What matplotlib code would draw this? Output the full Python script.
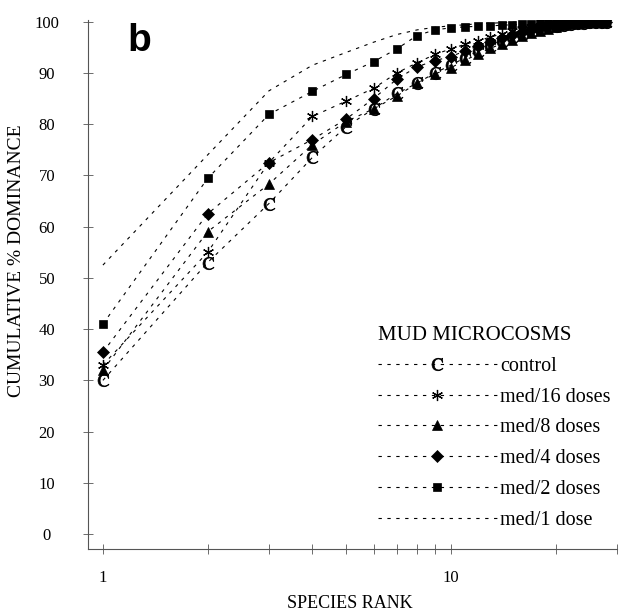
import matplotlib
matplotlib.use("Agg")
import matplotlib.pyplot as plt
from matplotlib.ticker import FixedLocator, NullFormatter, FixedFormatter

plt.rcParams["font.family"] = ["Liberation Serif", "DejaVu Serif"]
plt.rcParams["mathtext.fontset"] = "stix"

# species rank and cumulative % dominance for each treatment
ranks = list(range(1, 29))
control = [30.0, 53.0, 64.5, 73.5, 79.5, 83.0, 86.0, 88.0, 90.0, 91.5, 93.0, 94.3,
           95.3, 96.2, 97.0, 97.6, 98.1, 98.5, 98.9, 99.2, 99.4, 99.6, 99.7, 99.8,
           99.9, 100.0, 100.0, 100.0]
med16 = [33.0, 55.0, 72.5, 81.5, 84.5, 87.0, 90.0, 92.0, 93.6, 94.7, 95.6, 96.3,
         97.0, 97.6, 98.1, 98.5, 98.9, 99.2, 99.4, 99.6, 99.7, 99.8, 99.9, 100.0,
         100.0, 100.0, 100.0, 100.0]
med8 = [32.0, 59.0, 68.3, 76.0, 80.5, 83.0, 85.5, 88.0, 89.8, 91.0, 92.5, 93.7,
        94.8, 95.7, 96.5, 97.2, 97.7, 98.2, 98.6, 99.0, 99.3, 99.5, 99.7, 99.8,
        99.9, 100.0, 100.0, 100.0]
med4 = [35.5, 62.5, 72.5, 77.0, 81.0, 85.0, 88.8, 91.2, 92.4, 93.2, 94.3, 95.3,
        96.1, 96.9, 97.5, 98.0, 98.4, 98.8, 99.1, 99.4, 99.6, 99.7, 99.8, 99.9,
        100.0, 100.0, 100.0, 100.0]
med2 = [41.0, 69.4, 81.9, 86.4, 89.7, 92.2, 94.7, 97.3, 98.4, 98.8, 99.0, 99.1,
        99.2, 99.3, 99.4, 99.5, 99.6, 99.7, 99.8, 99.8, 99.9, 99.9, 100.0, 100.0,
        100.0, 100.0, 100.0, 100.0]
med1 = [52.5, 74.0, 86.5, 91.5, 94.0, 96.0, 97.5, 98.4, 98.9, 99.2, 99.4, 99.6,
        99.7, 99.8, 99.9, 100.0, 100.0, 100.0, 100.0, 100.0, 100.0, 100.0, 100.0,
        100.0, 100.0, 100.0, 100.0, 100.0]

series = [
    ("control", control, r"$\mathrm{C}$", 9),
    ("med/16 doses", med16, (6, 2, 0), 8),
    ("med/8 doses", med8, "^", 7),
    ("med/4 doses", med4, "D", 6),
    ("med/2 doses", med2, "s", 6),
    ("med/1 dose", med1, None, 0),
]

fig = plt.figure(figsize=(6.23, 6.14), dpi=100)
ax = fig.add_axes([0.141, 0.106, 0.849, 0.862])

for name, vals, mk, ms in series:
    ax.plot(ranks, vals, color="black", lw=0.8, ls=(0, (3, 5)),
            marker=mk, markersize=ms, markeredgewidth=0.9 if mk == (6, 2, 0) else 0.5,
            markerfacecolor="black", markeredgecolor="black", label=name)

ax.set_xscale("log")
ax.set_xlim(0.905, 30)
ax.set_ylim(-2.9, 100.4)

ax.xaxis.set_major_locator(FixedLocator([1, 10]))
ax.xaxis.set_major_formatter(FixedFormatter(["1", "10"]))
ax.xaxis.set_minor_locator(FixedLocator([2, 3, 4, 5, 6, 7, 8, 9, 20, 30]))
ax.xaxis.set_minor_formatter(NullFormatter())
ax.set_yticks(range(0, 101, 10))

for s in ["top", "right"]:
    ax.spines[s].set_visible(False)
for s in ["left", "bottom"]:
    ax.spines[s].set_color("#555555")
    ax.spines[s].set_linewidth(0.8)

ax.tick_params(axis="both", which="both", direction="inout", length=7,
               width=0.6, color="#555555", labelsize=12)
ax.tick_params(axis="x", which="major", pad=12)
ax.tick_params(axis="y", which="major", pad=26)
for lab in ax.get_yticklabels():
    lab.set_horizontalalignment("center")

ax.set_xlabel("SPECIES RANK", fontsize=13)
ax.set_ylabel("CUMULATIVE % DOMINANCE", fontsize=14)
ax.xaxis.set_label_coords(0.495, -0.088)
ax.yaxis.set_label_coords(-0.118, 0.544)

ax.text(0.074, 0.994, "b", transform=ax.transAxes, fontsize=28,
        fontweight="bold", family=["Liberation Sans", "DejaVu Sans"],
        va="top", ha="left")

leg = ax.legend(loc="upper left", bbox_to_anchor=(378 / 623, 1 - 326 / 614),
                bbox_transform=fig.transFigure, frameon=False, fontsize=14.5,
                title="MUD MICROCOSMS", title_fontsize=15, alignment="left",
                handlelength=5.9, handletextpad=0.15, labelspacing=0.58,
                borderpad=0, borderaxespad=0, numpoints=1)

fig.savefig("out.png", dpi=100)
